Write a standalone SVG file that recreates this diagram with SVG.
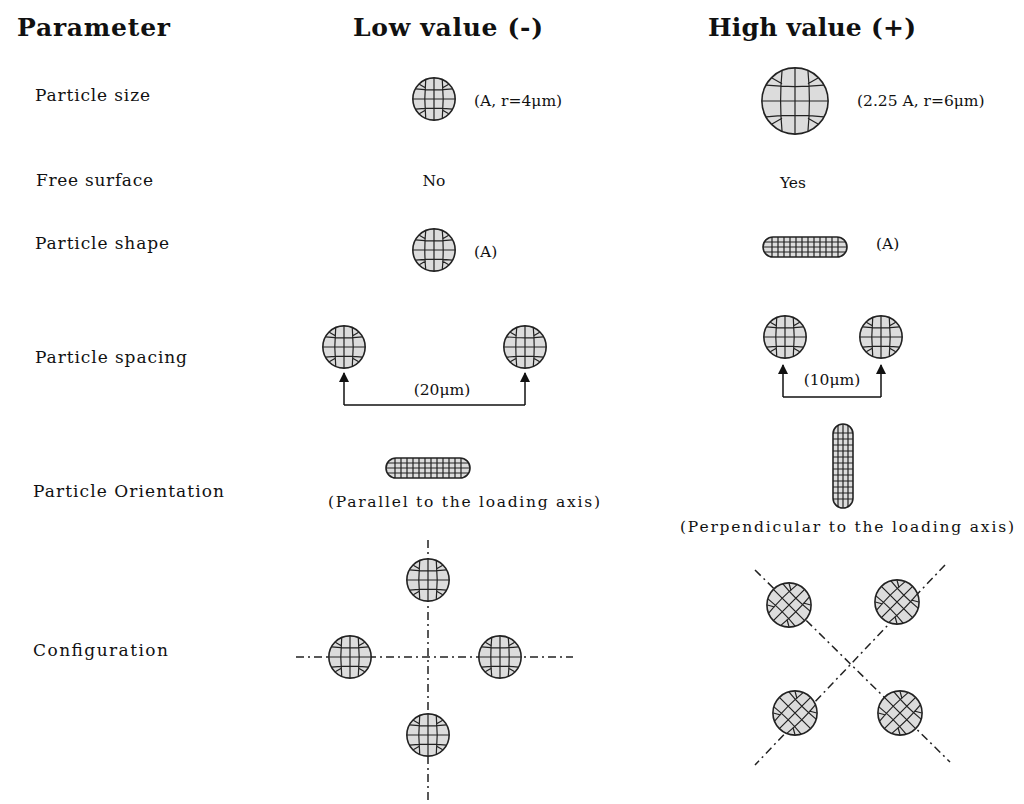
<svg xmlns="http://www.w3.org/2000/svg" width="1024" height="804" viewBox="0 0 1024 804">
<style>
text{font-family:"DejaVu Serif","Liberation Serif",serif;fill:#111}
.h{font-size:25px;font-weight:bold}
.l{font-size:17px}
.s{font-size:15.5px}
.m{fill:#dcdcdc;stroke:#222;stroke-width:1.6;vector-effect:non-scaling-stroke}
.g{fill:none;stroke:#222;stroke-width:1.2;vector-effect:non-scaling-stroke}
.dd{stroke:#222;stroke-width:1.5;stroke-dasharray:8 4 2 4;fill:none}
.c{stroke:#111;stroke-width:1.5;fill:none}
</style>
<defs>
<marker id="ar" viewBox="0 0 10 10" refX="9" refY="5" markerWidth="7" markerHeight="7" orient="auto"><path d="M0,0L10,5L0,10z" fill="#111"/></marker>
<symbol id="sp" viewBox="-25 -25 50 50" overflow="visible">
<circle class="m" r="23"/>
<path class="g" d="M0,-23V23M-23,0H23M-9,-21Q-11,0-9,21M9,-21Q11,0 9,21M-20,-11Q0,-9 20,-11M-20,11Q0,9 20,11M-16,-16L-9,-12M16,-16L9,-12M-16,16L-9,12M16,16L9,12"/>
</symbol>
<symbol id="cap" viewBox="0 0 86 22">
<rect class="m" x="1" y="1" width="84" height="20" rx="10"/>
<path class="g" d="M10,1V21M16,1V21M22,1V21M28,1V21M34,1V21M40,1V21M46,1V21M52,1V21M58,1V21M64,1V21M70,1V21M76,1V21M2,6H84M1,11H85M2,16H84"/>
</symbol>
</defs>
<g id="headers">
<text class="h" x="17" y="36" textLength="153">Parameter</text>
<text class="h" x="353" y="36" textLength="190">Low value (-)</text>
<text class="h" x="708" y="36" textLength="208">High value (+)</text>
</g>
<g id="labels">
<text class="l" x="35" y="101" textLength="115">Particle size</text>
<text class="l" x="36" y="186" textLength="117">Free surface</text>
<text class="l" x="35" y="249" textLength="134">Particle shape</text>
<text class="l" x="35" y="363" textLength="152">Particle spacing</text>
<text class="l" x="33" y="497" textLength="191">Particle Orientation</text>
<text class="l" x="33" y="656" textLength="135">Configuration</text>
</g>
<g id="size">
<use href="#sp" x="411" y="76" width="46" height="46"/>
<text class="s" x="474" y="106">(A, r=4μm)</text>
<use href="#sp" x="759" y="65" width="72" height="72"/>
<text class="s" x="857" y="106">(2.25 A, r=6μm)</text>
</g>
<g id="free">
<text class="s" x="434" y="186" text-anchor="middle">No</text>
<text class="s" x="793" y="188" text-anchor="middle">Yes</text>
</g>
<g id="shape">
<use href="#sp" x="411" y="227" width="46" height="46"/>
<text class="s" x="474" y="257">(A)</text>
<use href="#cap" x="762" y="236" width="86" height="22"/>
<text class="s" x="876" y="249">(A)</text>
</g>
<g id="connectors">
<path class="c" d="M344,405H525"/>
<path class="c" d="M344,405V373" marker-end="url(#ar)"/>
<path class="c" d="M525,405V373" marker-end="url(#ar)"/>
<path class="c" d="M783,397H881"/>
<path class="c" d="M783,397V365" marker-end="url(#ar)"/>
<path class="c" d="M881,397V365" marker-end="url(#ar)"/>
<path class="dd" d="M428,540V800M296,657H573M755,570L950,762M945,565L755,765"/>
</g>
<g id="spacing">
<use href="#sp" x="321" y="324" width="46" height="46"/>
<use href="#sp" x="502" y="324" width="46" height="46"/>
<text class="s" x="442" y="395" text-anchor="middle">(20μm)</text>
<use href="#sp" x="762" y="314" width="46" height="46"/>
<use href="#sp" x="858" y="314" width="46" height="46"/>
<text class="s" x="832" y="385" text-anchor="middle">(10μm)</text>
</g>
<g id="orientation">
<use href="#cap" x="385" y="457" width="86" height="22"/>
<text class="s" x="328" y="507" textLength="272">(Parallel to the loading axis)</text>
<use href="#cap" transform="translate(854,423) rotate(90)" width="86" height="22"/>
<text class="s" x="680" y="532" textLength="334">(Perpendicular to the loading axis)</text>
</g>
<g id="configuration">
<use href="#sp" x="405" y="557" width="46" height="46"/>
<use href="#sp" x="327" y="634" width="46" height="46"/>
<use href="#sp" x="477" y="634" width="46" height="46"/>
<use href="#sp" x="405" y="712" width="46" height="46"/>
<use href="#sp" transform="rotate(45 789 605)" x="765" y="581" width="48" height="48"/>
<use href="#sp" transform="rotate(45 897 602)" x="873" y="578" width="48" height="48"/>
<use href="#sp" transform="rotate(45 795 713)" x="771" y="689" width="48" height="48"/>
<use href="#sp" transform="rotate(45 900 713)" x="876" y="689" width="48" height="48"/>
</g>
</svg>
